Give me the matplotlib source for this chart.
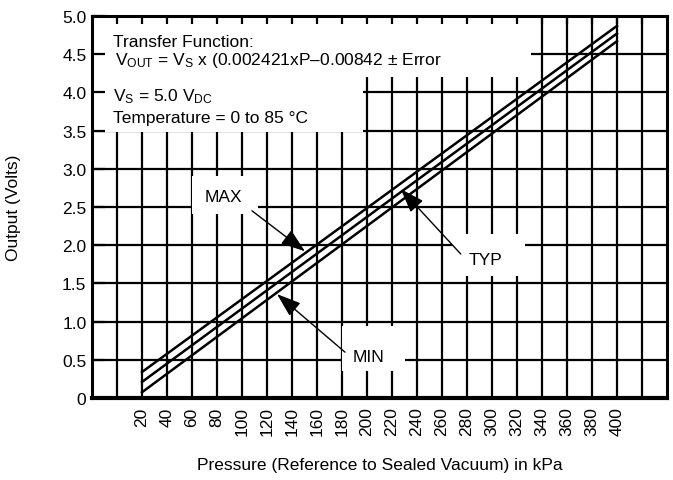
import matplotlib.pyplot as plt
from matplotlib.patches import Rectangle

# data
pressure = [20, 400]
v_max = [0.34, 4.87]
v_typ = [0.21, 4.77]
v_min = [0.075, 4.67]

x_ticks = list(range(0, 421, 20))
x_labels = [''] + [str(p) for p in range(20, 401, 20)] + ['']
y_ticks = [0, 0.5, 1.0, 1.5, 2.0, 2.5, 3.0, 3.5, 4.0, 4.5, 5.0]
y_labels = ['0', '0.5', '1.0', '1.5', '2.0', '2.5', '3.0', '3.5', '4.0', '4.5', '5.0']

plt.rcParams['font.family'] = ['Liberation Sans', 'DejaVu Sans']
plt.rcParams['mathtext.fontset'] = 'custom'
plt.rcParams['mathtext.rm'] = 'Liberation Sans'
plt.rcParams['mathtext.it'] = 'Liberation Sans:italic'
plt.rcParams['font.size'] = 12.5

fig = plt.figure(figsize=(6.73, 4.81), dpi=100)
ax = fig.add_axes([0.1367, 0.1705, 0.8543, 0.7942])
ax.set_xlim(-20, 440)
ax.set_ylim(0, 5)

# grid drawn by hand so the white label boxes can sit over it
ax.vlines(x_ticks, 0, 5, colors='black', lw=1.6, zorder=1)
ax.hlines(y_ticks[1:-1], -20, 440, colors='black', lw=1.6, zorder=1)

# white areas behind the texts (x0, y0, width, height in data units)
boxes = [
    (-20, 3.48, 216.8, 1.52),
    (196.8, 4.2, 134.4, 0.8),
    (60, 2.408, 52.8, 0.498),
    (268, 1.597, 58.4, 0.55),
    (180, 0.353, 50.4, 0.589),
]
for x0, y0, w, h in boxes:
    ax.add_patch(Rectangle((x0, y0), w, h, facecolor='white', edgecolor='none', zorder=2))

ax.plot(pressure, v_max, color='black', lw=1.8, zorder=4)
ax.plot(pressure, v_typ, color='black', lw=1.8, zorder=4)
ax.plot(pressure, v_min, color='black', lw=1.8, zorder=4)

ax.set_xticks(x_ticks)
ax.set_xticklabels(x_labels, rotation=90)
ax.set_yticks(y_ticks)
ax.set_yticklabels(y_labels)
ax.xaxis.set_zorder(3)
ax.yaxis.set_zorder(3)
ax.tick_params(axis='x', direction='in', top=True, bottom=False, length=6, width=1.6, pad=6)
ax.tick_params(axis='y', direction='in', left=True, right=False, length=9, width=1.6, pad=4)
for side in ax.spines:
    ax.spines[side].set_linewidth(2.2)
    ax.spines[side].set_zorder(3)
ax.spines['bottom'].set_linewidth(3)

ax.text(-3.2, 4.607, 'Transfer Function:', zorder=5)
ax.text(-1.6, 4.372, r'V$_{\mathrm{OUT}}$ = V$_{\mathrm{S}}$ x (0.002421xP–0.00842 ± Error', zorder=5)
ax.text(-3.2, 3.891, r'V$_{\mathrm{S}}$ = 5.0 V$_{\mathrm{DC}}$', zorder=5)
ax.text(-3.2, 3.609, 'Temperature = 0 to 85 °C', zorder=5)

ax.text(85.2, 2.578, 'MAX', ha='center', zorder=5)
ax.text(295.2, 1.754, 'TYP', ha='center', zorder=5)
ax.text(201.6, 0.484, 'MIN', ha='center', zorder=5)

arrow = dict(arrowstyle='-|>,head_length=1.2,head_width=0.42', color='black', lw=1,
             shrinkA=0, shrinkB=0)
ax.annotate('', xy=(150.4, 1.92), xytext=(108, 2.45), arrowprops=arrow, zorder=5)
ax.annotate('', xy=(227, 2.735), xytext=(275, 1.885), arrowprops=arrow, zorder=5)
ax.annotate('', xy=(128, 1.36), xytext=(182.4, 0.60), arrowprops=arrow, zorder=5)

fig.text(14 / 673, 1 - 208 / 481, 'Output (Volts)', rotation=90, ha='center', va='center')
fig.text(380 / 673, 1 - 470 / 481, 'Pressure (Reference to Sealed Vacuum) in kPa',
         ha='center', va='baseline')

fig.savefig('out.png', dpi=100)
